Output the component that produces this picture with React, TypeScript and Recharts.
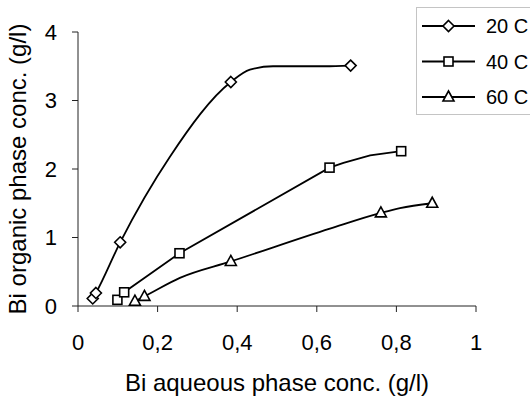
import React from "react";
import {
  ComposedChart,
  Line,
  Scatter,
  XAxis,
  YAxis,
  Label,
} from "recharts";

// Measured equilibrium points (aqueous conc. g/l -> organic conc. g/l)
const aq20 = [0.037, 0.045, 0.106, 0.384, 0.685];
const org20 = [0.11, 0.19, 0.93, 3.27, 3.51];
const aq40 = [0.099, 0.116, 0.255, 0.632, 0.812];
const org40 = [0.09, 0.2, 0.77, 2.02, 2.26];
const aq60 = [0.143, 0.167, 0.384, 0.761, 0.89];
const org60 = [0.07, 0.14, 0.65, 1.36, 1.5];

// Extra points along the drawn trend curves (no markers)
const bendAq20 = [0.231, 0.432, 0.49, 0.62];
const bendOrg20 = [2.18, 3.45, 3.5, 3.5];
const bendAq40 = [0.667, 0.734];
const bendOrg40 = [2.09, 2.2];
const bendAq60 = [0.256, 0.633, 0.809];
const bendOrg60 = [0.41, 1.13, 1.43];

const xTicks = [0, 0.2, 0.4, 0.6, 0.8, 1];
const yTicks = [0, 1, 2, 3, 4];
const seriesNames = ["20 C", "40 C", "60 C"];

const FONT = "'Liberation Sans', Arial, sans-serif";

type Pt = { x: number; y: number };

const toPoints = (xs: number[], ys: number[]): Pt[] =>
  xs.map((x, i) => ({ x, y: ys[i] }));

const toCurve = (a: Pt[], b: Pt[]): Pt[] =>
  [...a, ...b].sort((p, q) => p.x - q.x);

const pts20 = toPoints(aq20, org20);
const pts40 = toPoints(aq40, org40);
const pts60 = toPoints(aq60, org60);
const curve20 = toCurve(pts20, toPoints(bendAq20, bendOrg20));
const curve40 = toCurve(pts40, toPoints(bendAq40, bendOrg40));
const curve60 = toCurve(pts60, toPoints(bendAq60, bendOrg60));

const fmtX = (v: number) => String(v).replace(".", ",");

const Diamond = ({ cx, cy }: { cx: number; cy: number }) => (
  <polygon
    points={`${cx},${cy - 5.5} ${cx + 5.5},${cy} ${cx},${cy + 5.5} ${cx - 5.5},${cy}`}
    fill="#fff"
    stroke="#000"
    strokeWidth={1.6}
  />
);

const Square = ({ cx, cy }: { cx: number; cy: number }) => (
  <rect
    x={cx - 4.5}
    y={cy - 4.5}
    width={9}
    height={9}
    fill="#fff"
    stroke="#000"
    strokeWidth={1.6}
  />
);

const Triangle = ({ cx, cy }: { cx: number; cy: number }) => (
  <polygon
    points={`${cx},${cy - 6} ${cx + 5.5},${cy + 4} ${cx - 5.5},${cy + 4}`}
    fill="#fff"
    stroke="#000"
    strokeWidth={1.6}
  />
);

const markers = [Diamond, Square, Triangle];

const LegendBox = () => (
  <svg width={114} height={108} style={{ display: "block" }}>
    <rect x={0.5} y={0.5} width={130} height={107} fill="#fff" stroke="#c4c4c4" />
    {seriesNames.map((name, i) => {
      const cy = 19 + i * 35.5;
      const M = markers[i];
      return (
        <g key={name}>
          <line x1={6} x2={59} y1={cy} y2={cy} stroke="#000" strokeWidth={1.8} />
          <M cx={32.5} cy={cy} />
          <text x={70} y={cy + 7} fontSize={20} fontFamily={FONT} fill="#000">
            {name}
          </text>
        </g>
      );
    })}
  </svg>
);

const shapeOf = (i: number) => (props: any) => {
  const M = markers[i];
  return <M cx={props.cx} cy={props.cy} />;
};

export default function App() {
  return (
    <div style={{ position: "absolute", left: 0, top: 0, width: 530, height: 400, background: "#fff", overflow: "hidden" }}>
      <ComposedChart
        width={530}
        height={400}
        margin={{ top: 32, right: 54, bottom: 0, left: 0 }}
      >
        <XAxis
          type="number"
          dataKey="x"
          domain={[0, 1]}
          ticks={xTicks}
          tickFormatter={fmtX}
          height={94}
          tickSize={6}
          tickMargin={22}
          stroke="#222"
          tick={{ fill: "#000", fontSize: 22, fontFamily: FONT }}
          allowDuplicatedCategory={false}
        >
          <Label
            value="Bi aqueous phase conc. (g/l)"
            position="insideBottom"
            offset={9}
            style={{ fontSize: 24, fontFamily: FONT, fill: "#000" }}
          />
        </XAxis>
        <YAxis
          type="number"
          dataKey="y"
          domain={[0, 4]}
          ticks={yTicks}
          width={78}
          tickSize={6}
          tickMargin={15}
          stroke="#222"
          tick={{ fill: "#000", fontSize: 22, fontFamily: FONT }}
        >
          <Label
            content={({ viewBox }: any) => {
              const cx = viewBox.x + 26;
              const cy = viewBox.y + viewBox.height / 2;
              return (
                <text
                  x={cx}
                  y={cy}
                  transform={`rotate(-90 ${cx} ${cy})`}
                  textAnchor="middle"
                  fontSize={24}
                  fontFamily={FONT}
                  fill="#000"
                >
                  Bi organic phase conc. (g/l)
                </text>
              );
            }}
          />
        </YAxis>
        <Line data={curve20} dataKey="y" type="monotone" stroke="#000" strokeWidth={1.8} dot={false} activeDot={false} isAnimationActive={false} legendType="none" />
        <Line data={curve40} dataKey="y" type="linear" stroke="#000" strokeWidth={1.8} dot={false} activeDot={false} isAnimationActive={false} legendType="none" />
        <Line data={curve60} dataKey="y" type="monotone" stroke="#000" strokeWidth={1.8} dot={false} activeDot={false} isAnimationActive={false} legendType="none" />
        <Scatter data={pts20} dataKey="y" shape={shapeOf(0)} isAnimationActive={false} name={seriesNames[0]} />
        <Scatter data={pts40} dataKey="y" shape={shapeOf(1)} isAnimationActive={false} name={seriesNames[1]} />
        <Scatter data={pts60} dataKey="y" shape={shapeOf(2)} isAnimationActive={false} name={seriesNames[2]} />
      </ComposedChart>
      <div style={{ position: "absolute", left: 416, top: 7 }}>
        <LegendBox />
      </div>
    </div>
  );
}
